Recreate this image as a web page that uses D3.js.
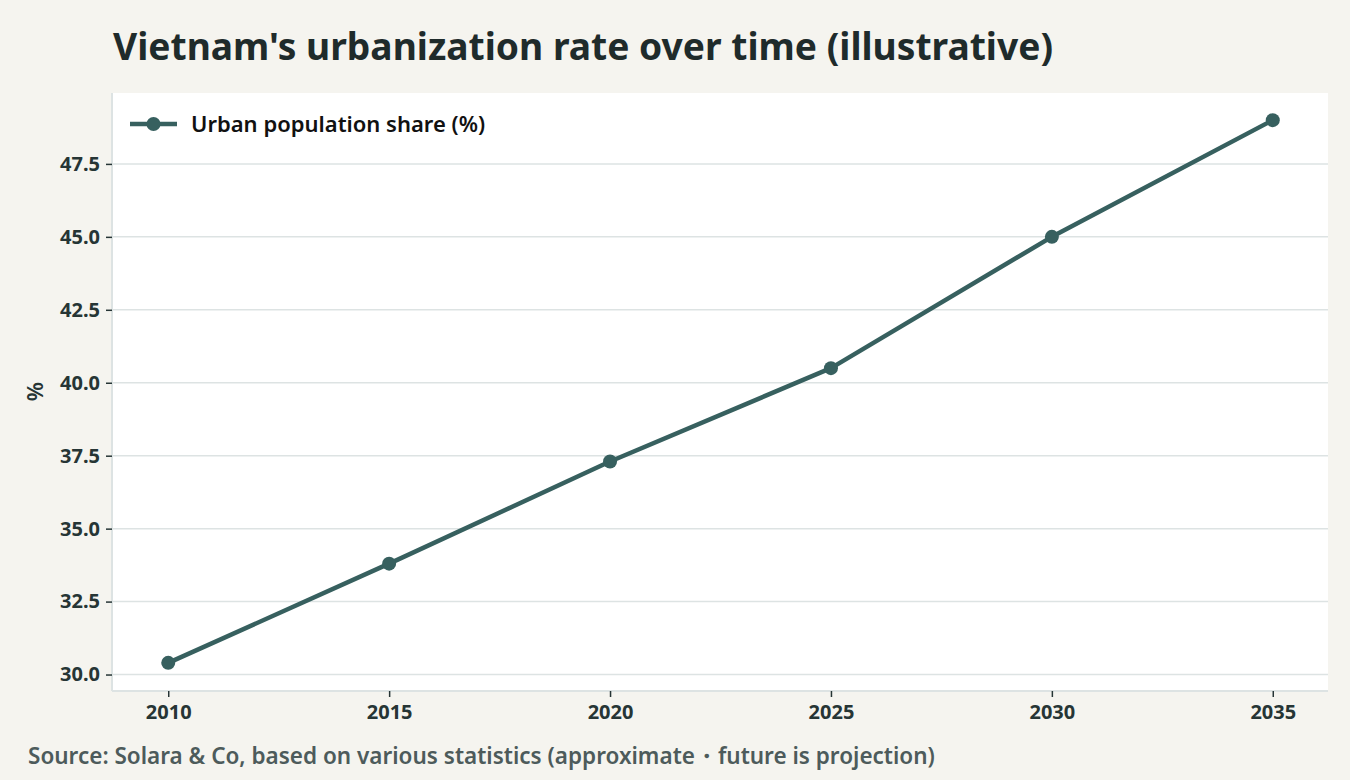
<!DOCTYPE html>
<html>
<head>
<meta charset="utf-8">
<script src="https://cdn.jsdelivr.net/npm/d3@7/dist/d3.min.js"></script>
<style>
  body { margin: 0; background: #f5f4ef; }
  svg { display: block; }
  svg text { font-family: "Source Sans Pro", "Noto Sans", "Open Sans", sans-serif; }
</style>
</head>
<body>
<svg id="chart" width="1350" height="780"></svg>
<script>
const years = [2010, 2015, 2020, 2025, 2030, 2035]
const urbanShare = [30.4, 33.8, 37.3, 40.5, 45.0, 49.0]
const yTicks = [30.0, 32.5, 35.0, 37.5, 40.0, 42.5, 45.0, 47.5]
const seriesName = "Urban population share (%)"

const W = 1350, H = 780
const m = {left: 113, right: 22, top: 93, bottom: 90}
const ink = "#263535", lineColor = "#37605f", grid = "#dde3e3"

const svg = d3.select("#chart")
const pts = years.map((y, i) => ({year: y, v: urbanShare[i]}))

// matplotlib-ish 5% margins
const xPad = (d3.max(years) - d3.min(years)) * 0.05
const yPad = (d3.max(urbanShare) - d3.min(urbanShare)) * 0.05

const x = d3.scaleLinear()
    .domain([d3.min(years) - xPad, d3.max(years) + xPad])
    .range([m.left, W - m.right])
const y = d3.scaleLinear()
    .domain([d3.min(urbanShare) - yPad, d3.max(urbanShare) + yPad])
    .range([H - m.bottom, m.top])

svg.append("rect")
    .attr("x", m.left).attr("y", m.top)
    .attr("width", W - m.left - m.right)
    .attr("height", H - m.top - m.bottom)
    .attr("fill", "#ffffff")

// gridlines
svg.append("g")
    .selectAll("line")
    .data(yTicks)
    .join("line")
    .attr("x1", m.left).attr("x2", W - m.right)
    .attr("y1", d => y(d)).attr("y2", d => y(d))
    .attr("stroke", grid).attr("stroke-width", 1.5)

// axes
const yAxis = svg.append("g")
    .attr("transform", `translate(${m.left - 1},0)`)
    .call(d3.axisLeft(y).tickValues(yTicks).tickFormat(d3.format(".1f")).tickSize(6).tickPadding(6))
const xAxis = svg.append("g")
    .attr("transform", `translate(0,${H - m.bottom + 1})`)
    .call(d3.axisBottom(x).tickValues(years).tickFormat(d3.format("d")).tickSize(6).tickPadding(8))

for (const ax of [xAxis, yAxis]) {
    ax.attr("font-family", null)
    ax.select(".domain").attr("stroke", grid).attr("stroke-width", 2)
    ax.selectAll(".tick line").attr("stroke", ink).attr("stroke-width", 1.5)
    ax.selectAll(".tick text")
        .attr("fill", ink)
        .attr("font-size", 20)
        .attr("font-weight", 700)
}
yAxis.select(".domain").attr("d", `M0,${m.top}V${H - m.bottom + 1}`)
xAxis.select(".domain").attr("d", `M${m.left - 1},0H${W - m.right}`)

// line + markers
svg.append("path")
    .datum(pts)
    .attr("d", d3.line().x(d => x(d.year)).y(d => y(d.v)))
    .attr("fill", "none")
    .attr("stroke", lineColor)
    .attr("stroke-width", 4.5)
    .attr("stroke-linejoin", "round")

svg.append("g")
    .selectAll("circle")
    .data(pts)
    .join("circle")
    .attr("cx", d => x(d.year))
    .attr("cy", d => y(d.v))
    .attr("r", 7)
    .attr("fill", lineColor)

// legend
const lg = svg.append("g").attr("transform", "translate(130,124)")
lg.append("line").attr("x1", 0).attr("x2", 47)
    .attr("stroke", lineColor).attr("stroke-width", 4.5)
lg.append("circle").attr("cx", 23.5).attr("r", 7).attr("fill", lineColor)
lg.append("text").attr("x", 61).attr("dy", "0.35em")
    .attr("font-size", 22).attr("font-weight", 600).attr("fill", "#111")
    .text(seriesName)

// titles
svg.append("text")
    .attr("x", 113).attr("y", 60)
    .attr("font-size", 37.2).attr("font-weight", 700).attr("fill", "#1f2b2b")
    .text("Vietnam's urbanization rate over time (illustrative)")

svg.append("text")
    .attr("transform", `translate(43,${(m.top + H - m.bottom) / 2}) rotate(-90)`)
    .attr("text-anchor", "middle")
    .attr("font-size", 22).attr("font-weight", 600).attr("fill", ink)
    .text("%")

svg.append("text")
    .attr("x", 28).attr("y", 764)
    .attr("font-size", 22.5).attr("font-weight", 600).attr("fill", "#4d5b5b")
    .text("Source: Solara & Co, based on various statistics (approximate・future is projection)")
</script>
</body>
</html>
